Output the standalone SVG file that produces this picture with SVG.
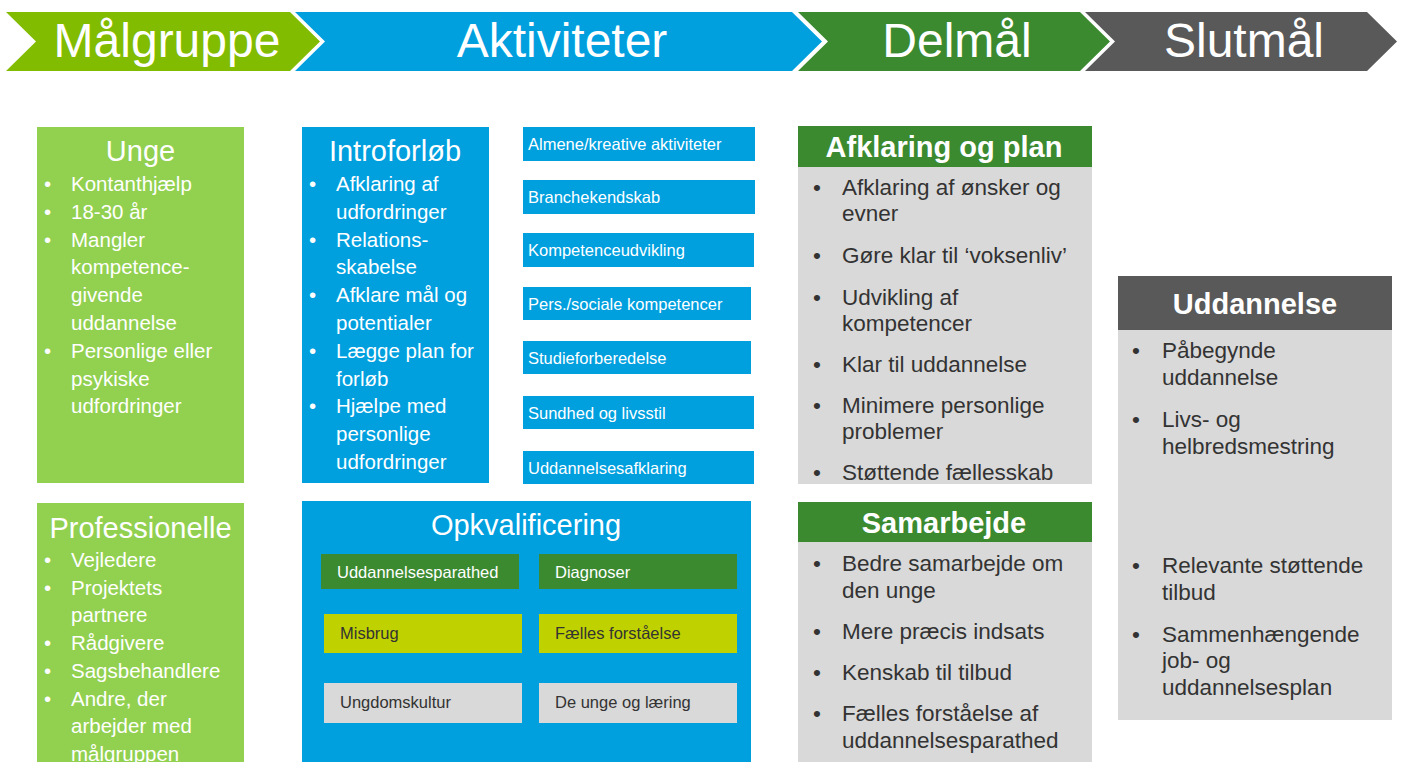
<svg xmlns="http://www.w3.org/2000/svg" width="1402" height="762" viewBox="0 0 1402 762">
<style>
text{font-family:"Liberation Sans",Arial,sans-serif}
.hd{font-size:48px;fill:#fff;text-anchor:middle}
.ttl{font-size:29px;fill:#fff;text-anchor:middle}
.wb{font-size:20.5px;fill:#fff}
.sm{font-size:16.5px;fill:#fff}
.smd{font-size:16.5px;fill:#333}
.bh{font-size:29px;font-weight:bold;fill:#fff;text-anchor:middle}
.gb{font-size:22.5px;fill:#333}
.blue{fill:#00A0DF}
.lg{fill:#92D050}
.dg{fill:#3B8A30}
.gy{fill:#D9D9D9}
.yg{fill:#C0D100}
.dk{fill:#595959}
</style>
<rect width="1402" height="762" fill="#fff"/>

<g id="header">
<g id="h-malgruppe"><polygon points="6,12 290,12 320,41.5 290,71 6,71 36,41.5" fill="#82BC00"/><text class="hd" x="167" y="57">Målgruppe</text></g>
<g id="h-aktiviteter"><polygon class="blue" points="295,12 792,12 822,41.5 792,71 295,71 325,41.5"/><text class="hd" x="562" y="57">Aktiviteter</text></g>
<g id="h-delmal"><polygon class="dg" points="798,12 1080,12 1110,41.5 1080,71 798,71 828,41.5"/><text class="hd" x="957" y="57">Delmål</text></g>
<g id="h-slutmal"><polygon class="dk" points="1085,12 1367,12 1397,41.5 1367,71 1085,71 1115,41.5"/><text class="hd" x="1244" y="57">Slutmål</text></g>
</g>

<g id="unge">
<rect class="lg" x="37" y="127" width="207" height="356"/>
<text class="ttl" x="140.5" y="161">Unge</text>
<g class="wb">
<text x="44" y="191">•</text><text x="71" y="191">Kontanthjælp</text>
<text x="44" y="219">•</text><text x="71" y="219">18-30 år</text>
<text x="44" y="246.7">•</text><text x="71" y="246.7">Mangler</text>
<text x="71" y="274.3">kompetence-</text>
<text x="71" y="302.3">givende</text>
<text x="71" y="330">uddannelse</text>
<text x="44" y="357.7">•</text><text x="71" y="357.7">Personlige eller</text>
<text x="71" y="385.7">psykiske</text>
<text x="71" y="413.3">udfordringer</text>
</g>
</g>

<g id="professionelle">
<rect class="lg" x="37" y="503" width="207" height="259"/>
<text class="ttl" x="140.5" y="538">Professionelle</text>
<g class="wb">
<text x="44" y="567.3">•</text><text x="71" y="567.3">Vejledere</text>
<text x="44" y="595">•</text><text x="71" y="595">Projektets</text>
<text x="71" y="622.3">partnere</text>
<text x="44" y="650">•</text><text x="71" y="650">Rådgivere</text>
<text x="44" y="677.7">•</text><text x="71" y="677.7">Sagsbehandlere</text>
<text x="44" y="705.7">•</text><text x="71" y="705.7">Andre, der</text>
<text x="71" y="733.3">arbejder med</text>
<text x="71" y="761">målgruppen</text>
</g>
</g>

<g id="introforlob">
<rect class="blue" x="302" y="127" width="187" height="356"/>
<text class="ttl" x="395" y="161">Introforløb</text>
<g class="wb">
<text x="309" y="191">•</text><text x="336" y="191">Afklaring af</text>
<text x="336" y="219">udfordringer</text>
<text x="309" y="246.7">•</text><text x="336" y="246.7">Relations-</text>
<text x="336" y="274.3">skabelse</text>
<text x="309" y="302.3">•</text><text x="336" y="302.3">Afklare mål og</text>
<text x="336" y="330">potentialer</text>
<text x="309" y="357.7">•</text><text x="336" y="357.7">Lægge plan for</text>
<text x="336" y="385.7">forløb</text>
<text x="309" y="413.3">•</text><text x="336" y="413.3">Hjælpe med</text>
<text x="336" y="441">personlige</text>
<text x="336" y="469">udfordringer</text>
</g>
</g>

<g id="akt-almene"><rect class="blue" x="523" y="127" width="232" height="34"/><text class="sm" x="528" y="149.5">Almene/kreative aktiviteter</text></g>
<g id="akt-branche"><rect class="blue" x="523" y="180" width="232" height="34"/><text class="sm" x="528" y="203">Branchekendskab</text></g>
<g id="akt-kompetence"><rect class="blue" x="523" y="233" width="231" height="34"/><text class="sm" x="528" y="256">Kompetenceudvikling</text></g>
<g id="akt-pers"><rect class="blue" x="523" y="287" width="228" height="33"/><text class="sm" x="528" y="309.5">Pers./sociale kompetencer</text></g>
<g id="akt-studie"><rect class="blue" x="523" y="341" width="228" height="33"/><text class="sm" x="528" y="363.5">Studieforberedelse</text></g>
<g id="akt-sundhed"><rect class="blue" x="523" y="396" width="231" height="33"/><text class="sm" x="528" y="418.5">Sundhed og livsstil</text></g>
<g id="akt-uddannelse"><rect class="blue" x="523" y="451" width="231" height="33"/><text class="sm" x="528" y="473.5">Uddannelsesafklaring</text></g>

<g id="opkvalificering">
<rect class="blue" x="302" y="501" width="449" height="261"/>
<text class="ttl" x="526" y="535">Opkvalificering</text>
<g id="opk-uddannelsesparathed"><rect class="dg" x="321" y="554" width="198" height="35"/><text class="sm" x="337" y="578">Uddannelsesparathed</text></g>
<g id="opk-diagnoser"><rect class="dg" x="539" y="554" width="198" height="35"/><text class="sm" x="555" y="578">Diagnoser</text></g>
<g id="opk-misbrug"><rect class="yg" x="324" y="614" width="198" height="39"/><text class="smd" x="340" y="639">Misbrug</text></g>
<g id="opk-faelles"><rect class="yg" x="539" y="614" width="198" height="39"/><text class="smd" x="555" y="639">Fælles forståelse</text></g>
<g id="opk-ungdom"><rect class="gy" x="324" y="683" width="198" height="40"/><text class="smd" x="340" y="708">Ungdomskultur</text></g>
<g id="opk-laering"><rect class="gy" x="539" y="683" width="198" height="40"/><text class="smd" x="555" y="708">De unge og læring</text></g>
</g>

<g id="afklaring">
<rect class="dg" x="798" y="126" width="294" height="41"/>
<rect class="gy" x="798" y="167" width="294" height="317"/>
<text class="bh" x="944" y="157">Afklaring og plan</text>
<g class="gb">
<text x="813" y="195">•</text><text x="842" y="195">Afklaring af ønsker og</text>
<text x="842" y="221">evner</text>
<text x="813" y="263.3">•</text><text x="842" y="263.3">Gøre klar til ‘voksenliv’</text>
<text x="813" y="305">•</text><text x="842" y="305">Udvikling af</text>
<text x="842" y="331">kompetencer</text>
<text x="813" y="371.7">•</text><text x="842" y="371.7">Klar til uddannelse</text>
<text x="813" y="413.3">•</text><text x="842" y="413.3">Minimere personlige</text>
<text x="842" y="439.3">problemer</text>
<text x="813" y="480">•</text><text x="842" y="480">Støttende fællesskab</text>
</g>
</g>

<g id="samarbejde">
<rect class="dg" x="798" y="502" width="294" height="40"/>
<rect class="gy" x="798" y="542" width="294" height="220"/>
<text class="bh" x="944" y="533">Samarbejde</text>
<g class="gb">
<text x="813" y="571">•</text><text x="842" y="571">Bedre samarbejde om</text>
<text x="842" y="597.7">den unge</text>
<text x="813" y="639">•</text><text x="842" y="639">Mere præcis indsats</text>
<text x="813" y="679.7">•</text><text x="842" y="679.7">Kenskab til tilbud</text>
<text x="813" y="720.7">•</text><text x="842" y="720.7">Fælles forståelse af</text>
<text x="842" y="748">uddannelsesparathed</text>
</g>
</g>

<g id="uddannelse">
<rect class="dk" x="1118" y="276" width="274" height="54"/>
<rect class="gy" x="1118" y="330" width="274" height="390"/>
<text class="bh" x="1255" y="314">Uddannelse</text>
<g class="gb">
<text x="1132" y="358.3">•</text><text x="1162" y="358.3">Påbegynde</text>
<text x="1162" y="385">uddannelse</text>
<text x="1132" y="426.7">•</text><text x="1162" y="426.7">Livs- og</text>
<text x="1162" y="454">helbredsmestring</text>
<text x="1132" y="573.3">•</text><text x="1162" y="573.3">Relevante støttende</text>
<text x="1162" y="600">tilbud</text>
<text x="1132" y="641.7">•</text><text x="1162" y="641.7">Sammenhængende</text>
<text x="1162" y="668.3">job- og</text>
<text x="1162" y="695">uddannelsesplan</text>
</g>
</g>

<g id="connectors"></g>
</svg>
